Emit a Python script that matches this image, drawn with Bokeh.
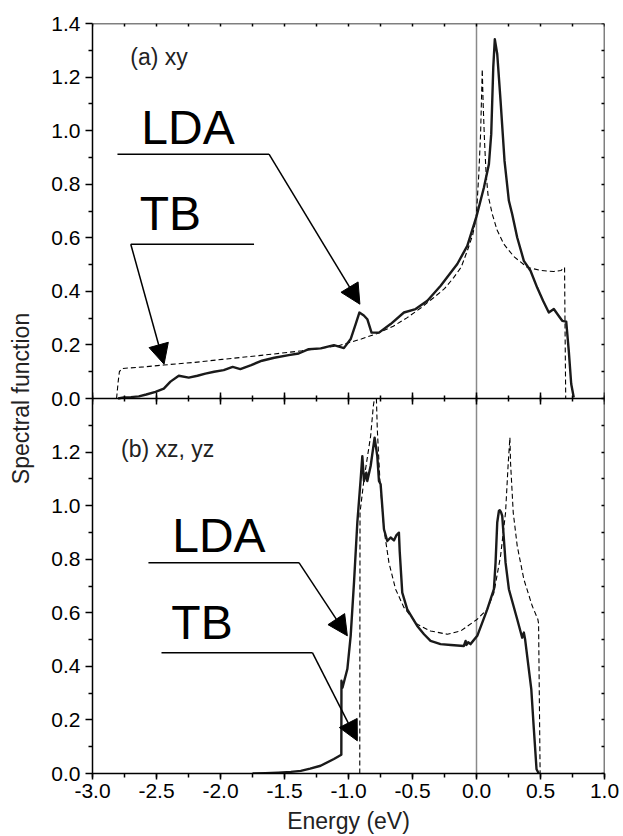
import numpy as np
from bokeh.plotting import figure
from bokeh.models import (Range1d, LinearAxis, FixedTicker, SingleIntervalTicker,
                          CustomJSTickFormatter, PrintfTickFormatter, Span, Label,
                          Arrow, NormalHead)
from bokeh.embed import file_html
from bokeh.resources import INLINE

# ---------------- data ----------------
# (a) xy orbital: LDA spectral function
energy_xy_lda = [-2.80, -2.756, -2.70, -2.638, -2.58, -2.508, -2.443, -2.391, -2.326, -2.248,
                 -2.18, -2.118, -2.05, -1.975, -1.905, -1.845, -1.76, -1.676, -1.58, -1.467,
                 -1.389, -1.311, -1.217, -1.114, -1.036, -0.983, -0.944, -0.915, -0.88, -0.853,
                 -0.82, -0.762, -0.671, -0.567, -0.476, -0.384, -0.28, -0.15, -0.072, 0.0,
                 0.058, 0.097, 0.115, 0.131, 0.143, 0.162, 0.188, 0.219, 0.253, 0.279,
                 0.318, 0.37, 0.422, 0.474, 0.52, 0.565, 0.604, 0.64, 0.67, 0.701,
                 0.721, 0.74, 0.76]
spec_xy_lda = [0.0, 0.004, 0.005, 0.008, 0.015, 0.025, 0.037, 0.063, 0.085, 0.078,
               0.085, 0.093, 0.100, 0.106, 0.118, 0.110, 0.125, 0.141, 0.152, 0.162,
               0.168, 0.184, 0.187, 0.199, 0.188, 0.222, 0.278, 0.321, 0.310, 0.296,
               0.246, 0.246, 0.278, 0.321, 0.334, 0.365, 0.421, 0.502, 0.570, 0.680,
               0.788, 0.875, 0.987, 1.236, 1.341, 1.286, 1.111, 0.887, 0.738, 0.688,
               0.601, 0.514, 0.477, 0.414, 0.365, 0.321, 0.334, 0.310, 0.290, 0.287,
               0.178, 0.054, 0.004]

# (a) xy orbital: tight-binding spectral function
energy_xy_tb = [-2.812, -2.80, -2.79, -2.77, -2.60, -2.443, -2.20, -1.988, -1.70, -1.364,
                -1.077, -0.90, -0.775, -0.65, -0.541, -0.43, -0.333, -0.25, -0.177, -0.12,
                -0.072, -0.03, -0.002, 0.018, 0.032, 0.045, 0.052, 0.063, 0.075, 0.090,
                0.123, 0.16, 0.214, 0.292, 0.396, 0.50, 0.604, 0.660, 0.688, 0.692, 0.697]
spec_xy_tb = [0.0, 0.06, 0.10, 0.112, 0.118, 0.125, 0.135, 0.146, 0.160, 0.178,
              0.197, 0.222, 0.243, 0.270, 0.302, 0.340, 0.377, 0.410, 0.452, 0.490,
              0.551, 0.610, 0.676, 0.838, 0.988, 1.229, 1.100, 0.957, 0.840, 0.760,
              0.689, 0.630, 0.576, 0.530, 0.490, 0.478, 0.474, 0.478, 0.489, 0.250, 0.0]

# (b) xz, yz orbitals: LDA spectral function
energy_xz_lda = [-1.75, -1.65, -1.55, -1.45, -1.373, -1.30, -1.218, -1.114, -1.056, -1.055,
                 -1.047, -1.009, -0.983, -0.957, -0.931, -0.905, -0.892, -0.879, -0.861, -0.853,
                 -0.827, -0.796, -0.775, -0.762, -0.749, -0.723, -0.697, -0.671, -0.645, -0.625,
                 -0.606, -0.600, -0.58, -0.541, -0.50, -0.463, -0.41, -0.359, -0.281, -0.20,
                 -0.099, -0.085, -0.078, -0.065, -0.047, 0.006, 0.084, 0.136, 0.149, 0.162,
                 0.175, 0.182, 0.192, 0.201, 0.227, 0.253, 0.318, 0.357, 0.365, 0.37,
                 0.38, 0.428, 0.448, 0.469, 0.487]
spec_xz_lda = [0.0, 0.001, 0.003, 0.006, 0.010, 0.018, 0.029, 0.054, 0.070, 0.346,
               0.320, 0.390, 0.514, 0.713, 0.937, 1.098, 1.185, 1.092, 1.123, 1.092,
               1.148, 1.254, 1.185, 1.092, 1.080, 0.912, 0.868, 0.881, 0.870, 0.890,
               0.899, 0.830, 0.675, 0.613, 0.580, 0.551, 0.520, 0.495, 0.483, 0.480,
               0.476, 0.495, 0.480, 0.490, 0.483, 0.514, 0.613, 0.688, 0.787, 0.937,
               0.980, 0.983, 0.975, 0.962, 0.787, 0.688, 0.576, 0.507, 0.520, 0.526,
               0.500, 0.315, 0.166, 0.016, 0.0]

# (b) xz, yz orbitals: tight-binding spectral function (peak runs past the panel top)
energy_xz_tb = [-0.912, -0.910, -0.879, -0.827, -0.806, -0.797, np.nan, -0.782, -0.775, -0.755,
                -0.723, -0.684, -0.632, -0.567, -0.463, -0.359, -0.228, -0.124, 0.006, 0.084,
                0.136, 0.188, 0.227, 0.248, 0.261, 0.266, 0.287, 0.318, 0.37, 0.435,
                0.479, 0.485, 0.497]
spec_xz_tb = [0.0, 0.974, 1.098, 1.260, 1.372, 1.400, np.nan, 1.400, 1.285, 1.098,
              0.912, 0.787, 0.688, 0.620, 0.557, 0.532, 0.520, 0.532, 0.576, 0.613,
              0.675, 0.812, 0.974, 1.160, 1.254, 1.160, 0.974, 0.850, 0.725, 0.626,
              0.576, 0.560, 0.0]

# tick values
y_ticks_a = [0.0, 0.2, 0.4, 0.6, 0.8, 1.0, 1.2, 1.4]
y_ticks_b = [0.0, 0.2, 0.4, 0.6, 0.8, 1.0, 1.2]
y_minor = [0.1, 0.3, 0.5, 0.7, 0.9, 1.1, 1.3]

# ---------------- layout constants ----------------
PANEL_SPAN = 1.4          # y extent of each panel
FONT = "Liberation Sans"
AXW = 1.5
INK = "#1a1a1a"

p = figure(width=623, height=836,
           x_range=Range1d(-3.0, 1.0), y_range=Range1d(0.0, 2 * PANEL_SPAN),
           output_backend="svg", toolbar_location=None,
           x_axis_location=None, y_axis_location=None,
           min_border_left=92, min_border_right=19, min_border_top=23, min_border_bottom=63)
# panel (a) sits on the upper half: its zero coincides with the top of panel (b)
p.extra_y_ranges = {"a": Range1d(-PANEL_SPAN, PANEL_SPAN)}
p.grid.grid_line_color = None
p.outline_line_color = None
p.background_fill_color = "white"
p.border_fill_color = "white"

axis_style = dict(axis_line_color="black", axis_line_width=AXW,
                  major_tick_line_color="black", major_tick_line_width=AXW,
                  minor_tick_line_color="black", minor_tick_line_width=AXW)
blank = CustomJSTickFormatter(code="return '';")

# left axis: both panels share one scale, labels restart at the panel boundary
left_major = y_ticks_b + [PANEL_SPAN + t for t in y_ticks_a]
left_minor = y_minor + [PANEL_SPAN + t for t in y_minor]
left = LinearAxis(ticker=FixedTicker(ticks=left_major, minor_ticks=left_minor),
                  formatter=CustomJSTickFormatter(
                      args=dict(split=PANEL_SPAN),
                      code="const v = tick >= split - 1e-6 ? tick - split : tick;"
                           "return Math.abs(v).toFixed(1);"),
                  axis_label="Spectral function",
                  axis_label_text_font=FONT, axis_label_text_font_size="23px",
                  axis_label_text_font_style="normal", axis_label_text_color="#222222",
                  axis_label_standoff=14,
                  major_label_text_font=FONT, major_label_text_font_size="21px",
                  major_label_text_color="black", major_label_standoff=5,
                  major_tick_in=0, major_tick_out=7, minor_tick_in=0, minor_tick_out=4,
                  **axis_style)
p.add_layout(left, "left")

bottom = LinearAxis(ticker=SingleIntervalTicker(interval=0.5, num_minor_ticks=2),
                    formatter=PrintfTickFormatter(format="%.1f"),
                    axis_label="Energy (eV)",
                    axis_label_text_font=FONT, axis_label_text_font_size="23px",
                    axis_label_text_font_style="normal", axis_label_text_color="#222222",
                    axis_label_standoff=7,
                    major_label_text_font=FONT, major_label_text_font_size="21px",
                    major_label_text_color="black", major_label_standoff=4,
                    major_tick_in=0, major_tick_out=6, minor_tick_in=0, minor_tick_out=4,
                    **axis_style)
p.add_layout(bottom, "below")

# shared boundary between the panels, ticks on both sides
middle = LinearAxis(fixed_location=PANEL_SPAN,
                    ticker=SingleIntervalTicker(interval=0.5, num_minor_ticks=2),
                    formatter=blank, major_tick_in=6, major_tick_out=6,
                    minor_tick_in=3, minor_tick_out=3, **axis_style)
p.add_layout(middle, "below")

top = LinearAxis(fixed_location=2 * PANEL_SPAN,
                 ticker=FixedTicker(ticks=np.arange(-3.0, 1.001, 0.25).round(2).tolist(),
                                    minor_ticks=[]),
                 formatter=blank, major_tick_in=3, major_tick_out=0,
                 minor_tick_in=0, minor_tick_out=0, **axis_style)
p.add_layout(top, "above")

right = LinearAxis(fixed_location=1.0,
                   ticker=FixedTicker(ticks=np.arange(0.0, 2.801, 0.1).round(2).tolist(),
                                      minor_ticks=[]),
                   formatter=blank, major_tick_in=3, major_tick_out=0,
                   minor_tick_in=0, minor_tick_out=0, **axis_style)
p.add_layout(right, "right")

# Fermi level
p.add_layout(Span(location=0.0, dimension="height", line_color="#8a8a8a",
                  line_width=1.5, level="underlay"))

# ---------------- curves ----------------
p.line(energy_xy_tb, spec_xy_tb, y_range_name="a", line_color="black",
       line_width=1.1, line_dash="5 3")
p.line(energy_xy_lda, spec_xy_lda, y_range_name="a", line_color=INK,
       line_width=2.4, line_join="round")
p.line(energy_xz_tb, spec_xz_tb, line_color="black", line_width=1.1, line_dash="5 3")
p.line(energy_xz_lda, spec_xz_lda, line_color=INK, line_width=2.4, line_join="round")

# ---------------- annotations ----------------
def label(x, y, text, size, rng="default", color="black"):
    p.add_layout(Label(x=x, y=y, text=text, y_range_name=rng, text_font=FONT,
                       text_font_size=size, text_color=color,
                       text_baseline="alphabetic", text_align="left"))


def leader(x0, x1, y0, tip_x, tip_y, from_left, rng="default"):
    p.add_layout(Arrow(x_start=x0, y_start=y0, x_end=x1, y_end=y0, end=None,
                       line_color="black", line_width=1.5, y_range_name=rng))
    sx = x0 if from_left else x1
    p.add_layout(Arrow(x_start=sx, y_start=y0, x_end=tip_x, y_end=tip_y,
                       end=NormalHead(size=20, fill_color="black", line_color="black",
                                      line_width=1),
                       line_color="black", line_width=1.5, y_range_name=rng))


label(-2.705, 1.275, "(a) xy", "23px", "a", "#222222")
label(-2.619, 1.013, "LDA", "48px", "a")
label(-2.631, 0.689, "TB", "48px", "a")
leader(-2.805, -1.621, 0.912, -0.911, 0.352, False, "a")
leader(-2.701, -1.738, 0.576, -2.441, 0.128, True, "a")

label(-2.777, 1.212, "(b) xz, yz", "23px", "default", "#222222")
label(-2.377, 0.887, "LDA", "48px")
label(-2.384, 0.5645, "TB", "48px")
leader(-2.563, -1.387, 0.787, -1.009, 0.514, False)
leader(-2.461, -1.282, 0.451, -0.931, 0.122, False)

open("out.html", "w").write(file_html(p, INLINE))
